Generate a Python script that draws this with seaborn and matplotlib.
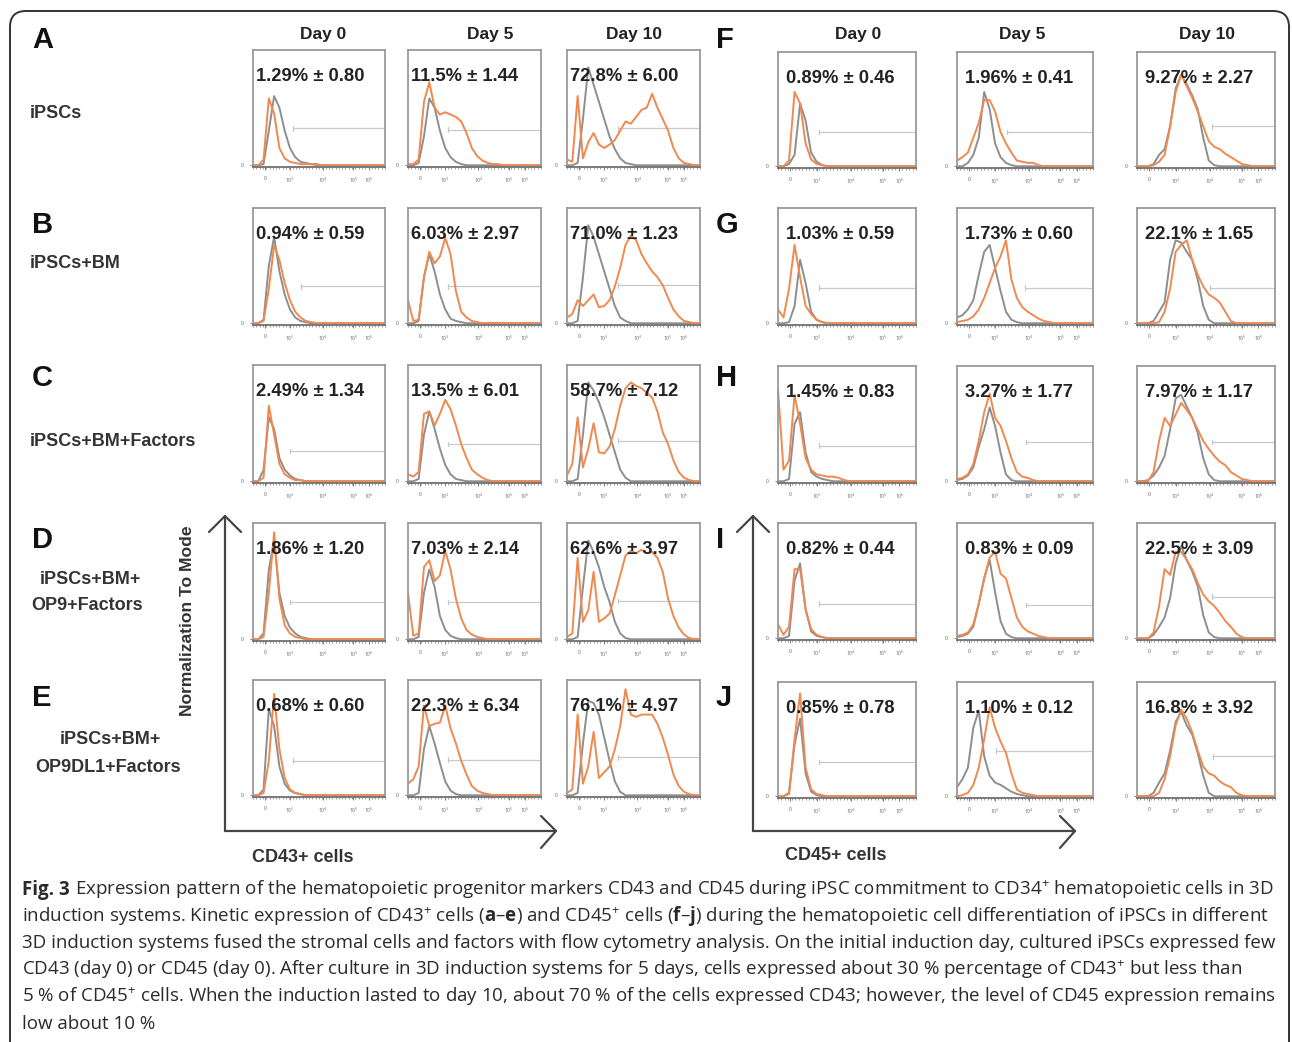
import numpy as np
import pandas as pd
import matplotlib
matplotlib.use("Agg")
import matplotlib.pyplot as plt
from matplotlib.patches import FancyBboxPatch
from matplotlib.ticker import MultipleLocator
import seaborn as sns

W, H = 1292, 1042

# ---------------- data ----------------
# fluorescence channel grid (% of plotted width) on which curves were read
channel = [0, 4, 8, 12, 16, 20, 24, 28, 32, 36, 40, 44, 48,
           52, 56, 60, 64, 68, 72, 76, 80, 84, 88, 92, 96, 100]

days = ["Day 0", "Day 5", "Day 10"]
tick_labels = ["0", "$10^3$", "$10^4$", "$10^5$", "$10^6$"]

cd43_letters = ["A", "B", "C", "D", "E"]
cd45_letters = ["F", "G", "H", "I", "J"]

# CD43 (A-E): control (gray) / stained (orange), % of mode
a_d0_ctrl  = [0,0,1,30,60,50,30,15,7,3,2,1,1,0,0,0,0,0,0,0,0,0,0,0,0,0]
a_d0_stain = [0,0,5,58,45,15,6,3,2,1,1,1,0,0,0,0,0,0,0,0,0,0,0,0,0,0]
a_d5_ctrl  = [0,0,2,25,58,50,30,15,7,3,1,0,0,0,0,0,0,0,0,0,0,0,0,0,0,0]
a_d5_stain = [1,1,5,55,72,50,44,46,44,42,38,28,15,8,4,2,1,1,0,0,0,0,0,0,0,0]
a_d10_ctrl = [0,0,2,40,85,70,55,40,25,14,6,2,1,0,0,0,0,0,0,0,0,0,0,0,0,0]
a_d10_stain= [5,3,60,6,20,28,18,15,18,22,30,38,36,42,48,50,62,50,40,30,15,6,2,1,0,0]

b_d0_ctrl  = [0,0,3,50,75,45,25,12,5,2,1,0,0,0,0,0,0,0,0,0,0,0,0,0,0,0]
b_d0_stain = [0,0,2,30,68,55,35,20,10,5,2,1,0,0,0,0,0,0,0,0,0,0,0,0,0,0]
b_d5_ctrl  = [0,0,2,40,60,45,25,12,4,2,1,0,0,0,0,0,0,0,0,0,0,0,0,0,0,0]
b_d5_stain = [20,2,3,40,62,52,58,74,60,28,10,5,2,1,0,0,0,0,0,0,0,0,0,0,0,0]
b_d10_ctrl = [0,0,2,40,85,75,60,45,30,15,5,2,0,0,0,0,0,0,0,0,0,0,0,0,0,0]
b_d10_stain= [5,8,20,15,20,25,14,15,20,32,48,68,76,72,60,52,45,40,33,22,12,6,2,1,0,0]

c_d0_ctrl  = [0,0,10,55,45,20,10,5,2,1,0,0,0,0,0,0,0,0,0,0,0,0,0,0,0,0]
c_d0_stain = [0,0,3,65,40,15,6,3,1,1,0,0,0,0,0,0,0,0,0,0,0,0,0,0,0,0]
c_d5_ctrl  = [0,0,2,40,60,45,28,14,6,2,1,0,0,0,0,0,0,0,0,0,0,0,0,0,0,0]
c_d5_stain = [6,4,8,58,60,48,58,70,62,48,32,20,10,6,3,1,0,0,0,0,0,0,0,0,0,0]
c_d10_ctrl = [0,0,2,40,85,78,68,55,40,25,10,3,0,0,0,0,0,0,0,0,0,0,0,0,0,0]
c_d10_stain= [5,15,55,12,28,50,25,24,30,45,65,80,85,82,80,76,72,60,42,32,18,8,3,1,0,0]

d_d0_ctrl  = [0,0,5,60,85,40,20,10,5,2,1,0,0,0,0,0,0,0,0,0,0,0,0,0,0,0]
d_d0_stain = [0,0,2,40,92,35,12,5,2,1,0,0,0,0,0,0,0,0,0,0,0,0,0,0,0,0]
d_d5_ctrl  = [0,0,2,40,60,45,20,8,3,1,0,0,0,0,0,0,0,0,0,0,0,0,0,0,0,0]
d_d5_stain = [40,3,5,62,68,50,55,76,60,35,18,8,4,2,1,0,0,0,0,0,0,0,0,0,0,0]
d_d10_ctrl = [0,0,2,45,85,75,62,45,32,15,5,1,0,0,0,0,0,0,0,0,0,0,0,0,0,0]
d_d10_stain= [2,5,70,15,25,58,15,18,22,38,55,72,76,74,77,74,75,70,58,35,20,10,4,1,0,0]

e_d0_ctrl  = [0,0,5,75,60,25,10,4,2,1,0,0,0,0,0,0,0,0,0,0,0,0,0,0,0,0]
e_d0_stain = [0,0,2,30,88,40,15,5,2,1,0,0,0,0,0,0,0,0,0,0,0,0,0,0,0,0]
e_d5_ctrl  = [0,0,2,40,60,45,28,12,4,1,0,0,0,0,0,0,0,0,0,0,0,0,0,0,0,0]
e_d5_stain = [10,14,25,78,60,62,63,78,58,45,30,18,8,4,2,1,0,0,0,0,0,0,0,0,0,0]
e_d10_ctrl = [0,0,2,45,82,80,70,50,30,12,3,0,0,0,0,0,0,0,0,0,0,0,0,0,0,0]
e_d10_stain= [2,5,70,10,25,55,15,20,25,40,60,92,70,68,70,70,70,62,50,35,18,8,3,1,0,0]

# CD45 (F-J)
f_d0_ctrl  = [0,0,2,10,55,40,12,4,1,0,0,0,0,0,0,0,0,0,0,0,0,0,0,0,0,0]
f_d0_stain = [0,0,5,65,55,20,6,2,1,0,0,0,0,0,0,0,0,0,0,0,0,0,0,0,0,0]
f_d5_ctrl  = [0,0,3,10,25,65,50,20,8,3,1,0,0,0,0,0,0,0,0,0,0,0,0,0,0,0]
f_d5_stain = [5,8,12,25,38,58,58,48,30,20,12,5,4,3,3,1,0,0,0,0,0,0,0,0,0,0]
f_d10_ctrl = [0,0,0,2,10,15,35,68,80,72,62,50,25,5,1,0,0,0,0,0,0,0,0,0,0,0]
f_d10_stain= [0,0,0,1,4,10,35,65,80,70,60,48,35,22,17,15,11,8,5,2,1,0,0,0,0,0]

g_d0_ctrl  = [0,0,1,15,55,35,10,3,1,0,0,0,0,0,0,0,0,0,0,0,0,0,0,0,0,0]
g_d0_stain = [12,5,30,68,40,15,8,3,1,0,0,0,0,0,0,0,0,0,0,0,0,0,0,0,0,0]
g_d5_ctrl  = [5,7,12,20,42,62,68,48,28,10,3,1,0,0,0,0,0,0,0,0,0,0,0,0,0,0]
g_d5_stain = [1,2,3,6,12,22,35,48,58,72,38,22,14,10,7,4,2,1,0,0,0,0,0,0,0,0]
g_d10_ctrl = [0,0,0,2,10,18,55,72,70,62,55,38,15,3,0,0,0,0,0,0,0,0,0,0,0,0]
g_d10_stain= [0,0,0,0,1,10,30,62,68,72,55,42,32,25,22,18,10,2,0,0,0,0,0,0,0,0]

h_d0_ctrl  = [0,0,2,50,60,25,8,4,2,1,0,0,0,0,0,0,0,0,0,0,0,0,0,0,0,0]
h_d0_stain = [80,10,18,75,50,20,10,6,5,4,4,3,1,0,0,0,0,0,0,0,0,0,0,0,0,0]
h_d5_ctrl  = [1,2,5,12,30,45,64,48,25,6,1,0,0,0,0,0,0,0,0,0,0,0,0,0,0,0]
h_d5_stain = [2,3,6,15,35,60,76,55,48,35,20,8,4,3,1,0,0,0,0,0,0,0,0,0,0,0]
h_d10_ctrl = [0,0,1,5,12,22,45,72,75,65,55,42,20,6,1,0,0,0,0,0,0,0,0,0,0,0]
h_d10_stain= [0,0,0,8,35,55,48,58,68,62,55,45,35,28,22,17,14,8,5,2,1,0,0,0,0,0]

i_d0_ctrl  = [0,0,2,50,65,25,6,2,1,0,0,0,0,0,0,0,0,0,0,0,0,0,0,0,0,0]
i_d0_stain = [12,3,10,60,60,25,8,3,1,0,0,0,0,0,0,0,0,0,0,0,0,0,0,0,0,0]
i_d5_ctrl  = [1,2,4,10,30,52,68,40,15,4,1,0,0,0,0,0,0,0,0,0,0,0,0,0,0,0]
i_d5_stain = [2,3,5,12,30,52,70,75,56,52,35,18,10,6,4,2,1,0,0,0,0,0,0,0,0,0]
i_d10_ctrl = [0,0,0,3,10,18,35,65,80,68,58,45,20,5,1,0,0,0,0,0,0,0,0,0,0,0]
i_d10_stain= [0,0,0,5,28,60,55,75,75,68,60,48,38,32,28,22,15,10,4,1,0,0,0,0,0,0]

j_d0_ctrl  = [0,0,3,45,68,20,4,1,0,0,0,0,0,0,0,0,0,0,0,0,0,0,0,0,0,0]
j_d0_stain = [0,0,2,50,90,25,6,2,1,0,0,0,0,0,0,0,0,0,0,0,0,0,0,0,0,0]
j_d5_ctrl  = [8,15,25,60,75,35,18,12,10,7,4,2,1,0,0,0,0,0,0,0,0,0,0,0,0,0]
j_d5_stain = [0,1,3,10,25,50,78,60,48,38,20,6,3,2,1,0,0,0,0,0,0,0,0,0,0,0]
j_d10_ctrl = [0,0,0,3,12,20,40,65,74,62,54,38,18,3,0,0,0,0,0,0,0,0,0,0,0,0]
j_d10_stain= [0,0,0,0,3,15,35,62,76,68,56,40,26,20,18,13,10,8,3,1,0,0,0,0,0,0]

cd43_pct = [["1.29% ± 0.80", "11.5% ± 1.44", "72.8% ± 6.00"],
            ["0.94% ± 0.59", "6.03% ± 2.97", "71.0% ± 1.23"],
            ["2.49% ± 1.34", "13.5% ± 6.01", "58.7% ± 7.12"],
            ["1.86% ± 1.20", "7.03% ± 2.14", "62.6% ± 3.97"],
            ["0.68% ± 0.60", "22.3% ± 6.34", "76.1% ± 4.97"]]
cd45_pct = [["0.89% ± 0.46", "1.96% ± 0.41", "9.27% ± 2.27"],
            ["1.03% ± 0.59", "1.73% ± 0.60", "22.1% ± 1.65"],
            ["1.45% ± 0.83", "3.27% ± 1.77", "7.97% ± 1.17"],
            ["0.82% ± 0.44", "0.83% ± 0.09", "22.5% ± 3.09"],
            ["0.85% ± 0.78", "1.10% ± 0.12", "16.8% ± 3.92"]]

# gate marker start (channel) and level (% of mode)
cd43_gate_x = [[30, 30, 38], [36, 30, 38], [28, 30, 38], [28, 30, 38], [30, 30, 38]]
cd43_gate_y = [[32, 31, 32], [32, 32, 33], [26, 32, 35], [32, 32, 33], [30, 31, 33]]
cd45_gate_x = [[30, 37, 54], [30, 50, 53], [30, 51, 54], [30, 51, 54], [30, 29, 55]]
cd45_gate_y = [[30, 30, 35], [31, 31, 31], [31, 34, 34], [30, 29, 36], [30, 40, 35]]

cd43_ctrl = [[a_d0_ctrl, a_d5_ctrl, a_d10_ctrl], [b_d0_ctrl, b_d5_ctrl, b_d10_ctrl],
             [c_d0_ctrl, c_d5_ctrl, c_d10_ctrl], [d_d0_ctrl, d_d5_ctrl, d_d10_ctrl],
             [e_d0_ctrl, e_d5_ctrl, e_d10_ctrl]]
cd43_stain = [[a_d0_stain, a_d5_stain, a_d10_stain], [b_d0_stain, b_d5_stain, b_d10_stain],
              [c_d0_stain, c_d5_stain, c_d10_stain], [d_d0_stain, d_d5_stain, d_d10_stain],
              [e_d0_stain, e_d5_stain, e_d10_stain]]
cd45_ctrl = [[f_d0_ctrl, f_d5_ctrl, f_d10_ctrl], [g_d0_ctrl, g_d5_ctrl, g_d10_ctrl],
             [h_d0_ctrl, h_d5_ctrl, h_d10_ctrl], [i_d0_ctrl, i_d5_ctrl, i_d10_ctrl],
             [j_d0_ctrl, j_d5_ctrl, j_d10_ctrl]]
cd45_stain = [[f_d0_stain, f_d5_stain, f_d10_stain], [g_d0_stain, g_d5_stain, g_d10_stain],
              [h_d0_stain, h_d5_stain, h_d10_stain], [i_d0_stain, i_d5_stain, i_d10_stain],
              [j_d0_stain, j_d5_stain, j_d10_stain]]

row_labels = [["iPSCs"], ["iPSCs+BM"], ["iPSCs+BM+Factors"],
              ["iPSCs+BM+", "OP9+Factors"], ["iPSCs+BM+", "OP9DL1+Factors"]]

caption_head = "Fig. 3"
caption_lines = [
    r"Expression pattern of the hematopoietic progenitor markers CD43 and CD45 during iPSC commitment to CD34$^{+}$ hematopoietic cells in 3D",
    r"induction systems. Kinetic expression of CD43$^{+}$ cells ($\mathbf{a}$–$\mathbf{e}$) and CD45$^{+}$ cells ($\mathbf{f}$–$\mathbf{j}$) during the hematopoietic cell differentiation of iPSCs in different",
    "3D induction systems fused the stromal cells and factors with flow cytometry analysis. On the initial induction day, cultured iPSCs expressed few",
    r"CD43 (day 0) or CD45 (day 0). After culture in 3D induction systems for 5 days, cells expressed about 30 % percentage of CD43$^{+}$ but less than",
    r"5 % of CD45$^{+}$ cells. When the induction lasted to day 10, about 70 % of the cells expressed CD43; however, the level of CD45 expression remains",
    "low about 10 %",
]

# ---------------- style ----------------
sns.set_style("white")
plt.rcParams["font.family"] = ["Liberation Sans", "DejaVu Sans"]
plt.rcParams["mathtext.fontset"] = "custom"
plt.rcParams["mathtext.rm"] = "Open Sans"
plt.rcParams["mathtext.bf"] = "Open Sans:bold"
plt.rcParams["mathtext.it"] = "Open Sans:italic"

ORANGE = "#f0894f"
GRAY = "#8e8e8e"
GATE = "#c8c8c8"
TXT = "#222222"
tick_pos = [9, 28, 53, 76, 88]

fig = plt.figure(figsize=(W / 100, H / 100), dpi=100)
bg = fig.add_axes([0, 0, 1, 1])
bg.set_xlim(0, W)
bg.set_ylim(H, 0)
bg.axis("off")

# outer rounded frame
bg.add_patch(FancyBboxPatch((10, 11), 1279, 1100, boxstyle="round,pad=0,rounding_size=16",
                            fill=False, lw=1.4, ec="#333333"))


def panel_axes(x0, x1, y0, y1):
    return fig.add_axes([x0 / W, 1 - y1 / H, (x1 - x0) / W, (y1 - y0) / H])


def draw_panel(ax, ctrl, stain, label, gx, gy, text_dx):
    n = len(channel)
    df = pd.DataFrame({"channel": channel * 2,
                       "pct": list(ctrl) + list(stain),
                       "curve": ["control"] * n + ["stained"] * n})
    sns.lineplot(data=df, x="channel", y="pct", hue="curve",
                 hue_order=["control", "stained"],
                 palette={"control": GRAY, "stained": ORANGE},
                 ax=ax, legend=False, linewidth=1.4, errorbar=None,
                 solid_joinstyle="round")
    ax.plot([gx, 100], [gy, gy], color=GATE, lw=0.9, zorder=1)
    ax.plot([gx, gx], [gy - 2, gy + 2], color=GATE, lw=0.9, zorder=1)
    ax.set_xlim(0, 100)
    ax.set_ylim(-1.5, 100)
    ax.set_xticks(tick_pos)
    ax.set_xticklabels(tick_labels, fontsize=3.6, color="#666666")
    ax.xaxis.set_minor_locator(MultipleLocator(2.5))
    ax.set_yticks([0])
    ax.set_yticklabels(["0"], fontsize=3.6, color="#666666")
    ax.tick_params(axis="both", which="major", length=2.5, width=0.6, colors="#666666",
                   pad=4, bottom=True, left=True)
    ax.tick_params(axis="x", which="minor", length=1.4, width=0.5, color="#777777", bottom=True)
    ax.set_xlabel("")
    ax.set_ylabel("")
    for s in ax.spines.values():
        s.set_color("#9a9a9a")
        s.set_linewidth(1.3)
    ax.spines["bottom"].set_color("#707070")
    ax.text(text_dx, 0.775, label, transform=ax.transAxes, fontsize=13.2,
            fontweight="bold", color=TXT, ha="left", va="center", zorder=6)


left_cols = [(253, 385), (408, 541), (567, 700)]
right_cols = [(778, 916), (957, 1093), (1137, 1275)]
left_rows = [(50, 167), (208, 325), (365, 483), (523, 641), (680, 797)]
right_rows = [(52, 168), (208, 325), (366, 483), (523, 640), (682, 798)]

for r in range(5):
    for c in range(3):
        ax = panel_axes(left_cols[c][0], left_cols[c][1], left_rows[r][0], left_rows[r][1])
        draw_panel(ax, cd43_ctrl[r][c], cd43_stain[r][c], cd43_pct[r][c],
                   cd43_gate_x[r][c], cd43_gate_y[r][c], 0.02)
        ax = panel_axes(right_cols[c][0], right_cols[c][1], right_rows[r][0], right_rows[r][1])
        draw_panel(ax, cd45_ctrl[r][c], cd45_stain[r][c], cd45_pct[r][c],
                   cd45_gate_x[r][c], cd45_gate_y[r][c], 0.06)

# column headers
for x, d in zip([323, 490, 634], days):
    bg.text(x, 35, d, ha="center", va="center", fontsize=12.5, fontweight="bold", color=TXT)
for x, d in zip([858, 1022, 1207], days):
    bg.text(x, 35, d, ha="center", va="center", fontsize=12.5, fontweight="bold", color=TXT)

# panel letters
letter_y = [40, 225, 378, 540, 698]
for L, y in zip(cd43_letters, letter_y):
    bg.text(32, y, L, ha="left", va="center", fontsize=21, fontweight="bold", color="#111111")
for L, y in zip(cd45_letters, letter_y):
    bg.text(716, y, L, ha="left", va="center", fontsize=21, fontweight="bold", color="#111111")

# row labels
RL = dict(fontsize=13, fontweight="bold", color="#333333", va="center")
bg.text(30, 113, row_labels[0][0], ha="left", **RL)
bg.text(30, 264, row_labels[1][0], ha="left", **RL)
bg.text(30, 441, row_labels[2][0], ha="left", **RL)
bg.text(90, 579, row_labels[3][0], ha="center", **RL)
bg.text(87, 605, row_labels[3][1], ha="center", **RL)
bg.text(110, 740, row_labels[4][0], ha="center", **RL)
bg.text(108, 767, row_labels[4][1], ha="center", **RL)

# big axis arrows
AC = "#454545"
for (vx, hx_end) in [(225, 556), (753, 1075)]:
    bg.plot([vx, vx], [516, 831], color=AC, lw=1.6)
    bg.plot([vx - 16, vx, vx + 16], [532, 516, 532], color=AC, lw=1.6)
    bg.plot([vx, hx_end], [831, 831], color=AC, lw=1.6)
    bg.plot([hx_end - 15, hx_end, hx_end - 15], [816, 831, 848], color=AC, lw=1.6)

bg.text(187, 621, "Normalization To Mode", rotation=90, ha="center", va="center",
        fontsize=12.6, fontweight="bold", color="#333333")
bg.text(252, 858, "CD43+ cells", ha="left", va="center", fontsize=13, fontweight="bold", color="#333333")
bg.text(785, 855, "CD45+ cells", ha="left", va="center", fontsize=13, fontweight="bold", color="#333333")

# caption: bold head + rest of first line; size fitted so line 1 spans the caption width
cap_family = ["Open Sans", "DejaVu Sans"]
CAPC = "#2a2a2a"
fig.canvas.draw()
renderer = fig.canvas.get_renderer()
p1 = bg.text(22, 890, caption_head + " ", fontsize=12, family=cap_family, fontweight="bold")
p2 = bg.text(22, 890, caption_lines[0], fontsize=12, family=cap_family)
w_total = p1.get_window_extent(renderer).width + p2.get_window_extent(renderer).width
p1.remove()
p2.remove()
cap_size = 12 * 1253.0 / w_total
cap_y = [890, 916, 943, 970, 997, 1024]
head = bg.text(22, cap_y[0], caption_head, ha="left", va="center", fontsize=cap_size,
               family=cap_family, fontweight="bold", color=CAPC)
fig.canvas.draw()
head_w = head.get_window_extent(renderer).width
space_w = cap_size * 100 / 72 * 0.26
bg.text(22 + head_w + space_w, cap_y[0], caption_lines[0], ha="left", va="center",
        fontsize=cap_size, family=cap_family, color=CAPC)
for s, y in zip(caption_lines[1:], cap_y[1:]):
    bg.text(22, y, s, ha="left", va="center", fontsize=cap_size, family=cap_family, color=CAPC)

fig.savefig("out.png", dpi=100, facecolor="white")
